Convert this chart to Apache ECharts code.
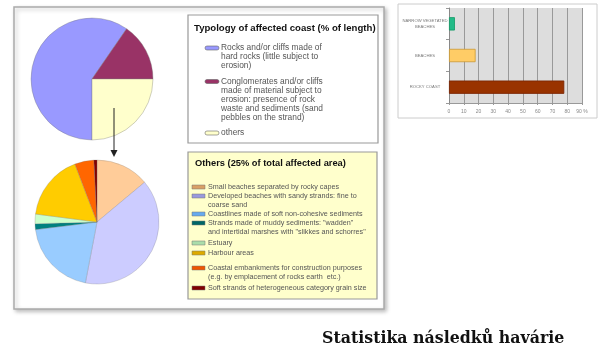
<!DOCTYPE html>
<html><head><meta charset="utf-8">
<script src="https://cdn.jsdelivr.net/npm/echarts@6/dist/echarts.min.js"></script>
<style>html,body{margin:0;padding:0;background:#fff}#c{width:603px;height:358px}</style>
</head><body><div id="c"></div>
<script>
// ---- data ----
const topTitle = 'Typology of affected coast (% of length)';
const topNames = [
  'Rocks and/or cliffs made of\nhard rocks (little subject to\nerosion)',
  'Conglomerates and/or cliffs\nmade of material subject to\nerosion: presence of rock\nwaste and sediments (sand\npebbles on the strand)',
  'others'
];
const topValues = [59.6, 15.4, 25];
const topColors = ['#9999FF', '#993366', '#FFFFCC'];

const otherTitle = 'Others (25% of total affected area)';
const otherNames = [
  'Small beaches separated by rocky capes',
  'Developed beaches with sandy strands: fine to\ncoarse sand',
  'Coastlines made of soft non-cohesive sediments',
  'Strands made of muddy sediments: "wadden"\nand intertidal marshes with "slikkes and schorres"',
  'Estuary',
  'Harbour areas',
  'Coastal embankments for construction purposes\n(e.g. by emplacement of rocks earth  etc.)',
  'Soft strands of heterogeneous category grain size'
];
const otherValues = [13.9, 39.0, 20.0, 1.5, 2.5, 17.1, 5.0, 0.8];
const otherColors = ['#FFCC99', '#CCCCFF', '#99CCFF', '#008080', '#CCFFCC', '#FFCC00', '#FF6600', '#800000'];
const otherSwatch = ['#D9A066', '#9999DD', '#66AAEE', '#006666', '#AADDAA', '#DDAA00', '#EE5500', '#800000'];

const barCats = ['NARROW VEGETATED\nBEACHES', 'BEACHES', 'ROCKY COAST'];
const barValues = [4, 18, 78];
const barColors = ['#22BB88', '#FFCC66', '#993300'];
const barBorders = ['#119966', '#CC9933', '#772200'];
const xTicks = [0, 10, 20, 30, 40, 50, 60, 70, 80, 90];

const chartTitle = 'Statistika následků havárie';

// ---- layout ----
const FONT = '"Liberation Sans", Arial, sans-serif';
const graphic = [];
// outer panel
graphic.push({type:'rect', z:-20, shape:{x:14, y:7, width:370, height:302},
  style:{fill:'#fff', stroke:'#AAAAAA', lineWidth:1.5, shadowBlur:4, shadowOffsetX:2, shadowOffsetY:2, shadowColor:'rgba(0,0,0,0.25)'}});
// bar panel frame
graphic.push({type:'rect', z:-20, shape:{x:398, y:4, width:199, height:114},
  style:{fill:'#fff', stroke:'#CCCCCC', lineWidth:1}});
// top legend box
graphic.push({type:'rect', z:-10, shape:{x:188, y:15, width:190, height:128},
  style:{fill:'#fff', stroke:'#999999', lineWidth:1.2}});
// bottom legend box
graphic.push({type:'rect', z:-10, shape:{x:188, y:152, width:189, height:147},
  style:{fill:'#FFFFCC', stroke:'#999999', lineWidth:1.2}});
// titles of legend boxes
graphic.push({type:'text', z:10, x:194, y:28, style:{text:topTitle, font:'bold 9.6px '+FONT, fill:'#111', verticalAlign:'middle'}});
graphic.push({type:'text', z:10, x:195, y:163, style:{text:otherTitle, font:'bold 9.3px '+FONT, fill:'#111', verticalAlign:'middle'}});

// top legend items
let ty = 48;
topNames.forEach((n, i) => {
  graphic.push({type:'rect', z:10, shape:{x:205, y:ty-2, width:14, height:4, r:2},
    style:{fill:topColors[i], stroke:'#666', lineWidth:0.6}});
  graphic.push({type:'text', z:10, x:221, y:ty-4.5, style:{text:n, font:'8.4px '+FONT, fill:'#555', lineHeight:9, verticalAlign:'top'}});
  ty += n.split('\n').length * 9 + 6.5;
});
// bottom legend items
const otherY = [187, 196, 214, 223, 243, 253, 268, 288];
otherNames.forEach((n, i) => {
  const y = otherY[i];
  graphic.push({type:'rect', z:10, shape:{x:192, y:y-2, width:13, height:4},
    style:{fill:otherSwatch[i], stroke:'#777', lineWidth:0.5}});
  graphic.push({type:'text', z:10, x:208, y:y-4.5, style:{text:n, font:'7.2px '+FONT, fill:'#555', lineHeight:9, verticalAlign:'top'}});
});
// arrow
graphic.push({type:'line', z:50, shape:{x1:114, y1:108, x2:114, y2:152}, style:{stroke:'#222', lineWidth:1}});
graphic.push({type:'polygon', z:50, shape:{points:[[110.5,150],[117.5,150],[114,157]]}, style:{fill:'#222'}});

const option = {
  animation: false,
  title: {text: chartTitle, left: 317, top: 326,
    textStyle: {fontFamily: '"DejaVu Serif", serif', fontWeight: 'bold', fontSize: 15.8, color: '#111'}},
  grid: {left: 449, right: 21, top: 8, height: 95, show: true, backgroundColor: '#DDDDDD', borderWidth: 0},
  xAxis: {type: 'value', min: 0, max: 90, interval: 10,
    axisLine: {show: true, lineStyle: {color: '#999'}},
    axisTick: {show: true, length: 2, lineStyle: {color: '#999'}},
    splitLine: {show: true, lineStyle: {color: '#999', width: 1}},
    axisLabel: {fontSize: 5, color: '#888', margin: 6, fontFamily: FONT,
      formatter: v => (v === xTicks[xTicks.length - 1] ? v + ' %' : String(v))}},
  yAxis: {type: 'category', data: barCats, inverse: true,
    axisLine: {show: true, lineStyle: {color: '#888'}},
    axisTick: {show: true, length: 3, lineStyle: {color: '#999'}},
    axisLabel: {fontSize: 4.2, color: '#777', align: 'center', margin: 24, lineHeight: 5.5, fontFamily: FONT}},
  graphic: graphic,
  series: [
    {type: 'bar', barWidth: '42%',
      data: barValues.map((v, i) => ({value: v, itemStyle: {color: barColors[i], borderColor: barBorders[i], borderWidth: 0.8}}))},
    {type: 'pie', center: [92, 79], radius: 61, startAngle: 270, clockwise: true,
      label: {show: false}, labelLine: {show: false}, emphasis: {disabled: true},
      itemStyle: {borderColor: 'rgba(120,120,120,0.6)', borderWidth: 0.6},
      data: topNames.map((n, i) => ({name: n, value: topValues[i], itemStyle: {color: topColors[i]}}))},
    {type: 'pie', center: [97, 222], radius: 62, startAngle: 90, clockwise: true,
      label: {show: false}, labelLine: {show: false}, emphasis: {disabled: true},
      itemStyle: {borderColor: 'rgba(120,120,120,0.5)', borderWidth: 0.5},
      data: otherNames.map((n, i) => ({name: n, value: otherValues[i], itemStyle: {color: otherColors[i]}}))}
  ]
};
const chart = echarts.init(document.getElementById('c'), null, {renderer: 'canvas'});
chart.setOption(option);
</script></body></html>
